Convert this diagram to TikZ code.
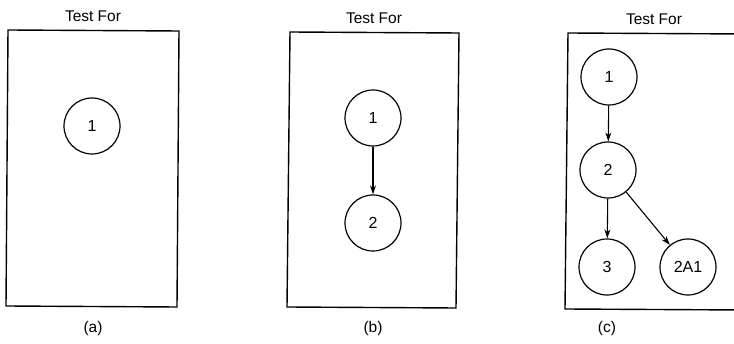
\documentclass[tikz,border=0pt]{standalone}
\usepackage{fontspec}
\setmainfont{Liberation Sans}
\usetikzlibrary{arrows.meta}
\begin{document}
\begin{tikzpicture}[x=1pt,y=-1pt,
  frame/.style={draw,line width=1.4pt},
  state/.style={draw,circle,line width=1.2pt,minimum size=56pt,inner sep=0pt,font=\fontsize{16}{19}\selectfont},
  caption/.style={font=\fontsize{15.5}{18}\selectfont},
  link/.style={line width=1.1pt,-{Stealth[length=9pt,width=6pt]}}]
\useasboundingbox (0,0) rectangle (734,344);
\begin{scope}
\clip (0,0) rectangle (734,344);
% panel (a)
\node[caption] (ta) at (93,16) {Test For};
\draw[frame] (8,30) -- (179,31) -- (177,307) -- (6,306) -- cycle;
\node[state] (a1) at (92,126) {1};
\node[caption] (la) at (93,328) {(a)};
% panel (b)
\node[caption] (tb) at (374,18) {Test For};
\draw[frame] (290,32) -- (459,33) -- (456,308) -- (287,307) -- cycle;
\node[state] (b1) at (373,118) {1};
\node[state] (b2) at (373,223) {2};
\draw[link] (b1) -- (b2);
\node[caption] (lb) at (373,328) {(b)};
% panel (c)
\node[caption] (tc) at (654,19) {Test For};
\draw[frame] (745,34) -- (568,33) -- (565,309) -- (745,310);
\node[state] (c1) at (609,77) {1};
\node[state] (c2) at (608,170) {2};
\node[state] (c3) at (607,267) {3};
\node[state] (c4) at (688,267) {2A1};
\draw[link] (c1) -- (c2);
\draw[link] (c2) -- (c3);
\draw[link] (c2) -- (c4);
\node[caption] (lc) at (607,328) {(c)};
\end{scope}
\end{tikzpicture}
\end{document}
